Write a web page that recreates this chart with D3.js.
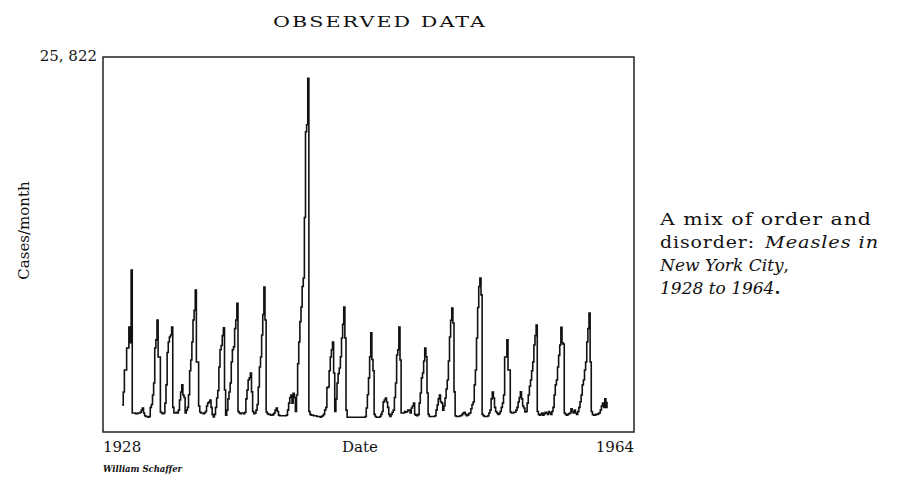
<!DOCTYPE html>
<html>
<head>
<meta charset="utf-8">
<script src="https://cdn.jsdelivr.net/npm/d3@7"></script>
<style>
  body { margin: 0; background: #fff; }
</style>
</head>
<body>
<div id="chart"></div>
<script>
// monthly measles cases, New York City, one row per year (Jan..Dec)
const startYear = 1928;
const cases = [
  1070, 1990, 3560, 3560, 5120, 5120, 6620, 5500, 10670, 500, 500, 500,   // 1928
  450, 450, 500, 500, 550, 700, 850, 500, 300, 250, 250, 200,
  250, 900, 1100, 1780, 2630, 5120, 5700, 7110, 4480, 4480, 570, 500,
  450, 500, 1200, 2500, 4800, 5550, 5900, 6050, 6620, 900, 500, 500,
  550, 500, 700, 1420, 1990, 2500, 1780, 1600, 500, 700, 900, 1800,
  3500, 4270, 5550, 7110, 7800, 9250, 4130, 4130, 1000, 570, 500, 500,
  450, 500, 600, 1000, 1200, 1280, 1420, 900, 400, 210, 400, 900,
  1560, 2100, 3770, 5000, 5300, 6000, 6550, 2130, 350, 700, 1500, 1990,
  2630, 4130, 5000, 5200, 6500, 7110, 8300, 600, 500, 450, 500, 500,
  450, 550, 1500, 2130, 2850, 3000, 3340, 2000, 600, 450, 500, 700,
  1100, 2350, 3770, 4480, 6050, 7500, 9460, 7110, 570, 450, 400, 400,
  350, 350, 400, 500, 700, 850, 600, 350, 300, 300, 300, 300,
  300, 300, 350, 700, 1200, 1600, 1780, 1200, 1900, 1600, 600, 1780,
  4000, 5550, 7000, 8040, 9500, 10100, 14400, 20500, 21000, 24300, 600, 400,
  350, 350, 300, 300, 300, 250, 250, 250, 200, 250, 300, 400,
  700, 900, 2300, 2350, 3500, 4480, 5000, 5550, 3340, 600, 1500, 2630,
  3300, 3700, 4500, 5830, 6800, 8040, 5830, 700, 200, 200, 200, 200,
  200, 200, 200, 200, 200, 200, 200, 200, 200, 200, 200, 200,
  250, 850, 1800, 3000, 4500, 6200, 4300, 3500, 400, 250, 200, 200,
  200, 250, 400, 600, 1280, 1420, 1560, 1280, 900, 400, 250, 400,
  550, 700, 1600, 2630, 4620, 5000, 6620, 4270, 500, 500, 500, 600,
  550, 600, 700, 700, 500, 850, 1000, 1200, 400, 350, 300, 400,
  1200, 1920, 3000, 3340, 4200, 5120, 4500, 1920, 400, 250, 250, 250,
  250, 250, 300, 700, 1070, 1500, 1780, 1300, 1200, 700, 1000, 1560,
  2200, 2850, 4200, 5900, 7100, 7970, 6900, 2000, 300, 250, 250, 250,
  300, 300, 400, 500, 550, 400, 300, 350, 450, 500, 800, 1100,
  1280, 2500, 3560, 5830, 8000, 9500, 10100, 8900, 400, 300, 250, 250,
  250, 300, 500, 700, 1500, 1990, 1560, 900, 600, 500, 400, 450,
  600, 900, 1200, 1780, 4480, 4480, 5700, 3560, 3560, 570, 500, 500,
  550, 550, 700, 900, 1280, 1600, 2000, 1500, 1000, 850, 570, 600,
  1200, 1780, 2400, 2850, 3500, 4130, 5340, 6000, 6760, 600, 400, 350,
  400, 500, 350, 450, 550, 500, 400, 600, 500, 400, 600, 900,
  1780, 2500, 2850, 3770, 4600, 5340, 6600, 5500, 5400, 500, 400, 350,
  400, 450, 500, 800, 600, 500, 700, 500, 400, 600, 900, 1300,
  1780, 2500, 2850, 3560, 4130, 5550, 6500, 7600, 4130, 600, 400, 350,
  350, 400, 400, 450, 500, 700, 1000, 1200, 900, 1500, 900, 1300         // 1963
];
const xTickLabels = ["1928", "1964"];
const xAxisTitle = "Date";
const yAxisTitle = "Cases/month";
const yMax = 25822;
const yMaxLabel = "25, 822";
const chartTitle = "OBSERVED DATA";
const credit = "William Schaffer";

const width = 907, height = 493;
const box = { left: 103, right: 634, top: 57, bottom: 432 };
const serif = "'DejaVu Serif', 'Liberation Serif', serif";
const ink = "#111";

const svg = d3.select("#chart")
  .append("svg")
  .attr("width", width)
  .attr("height", height);

svg.append("rect")
  .attr("width", width)
  .attr("height", height)
  .attr("fill", "#fff");

// months since Jan 1928, padded so the series sits inside the frame
const x = d3.scaleLinear()
  .domain([-17, 455])
  .range([box.left, box.right]);

const y = d3.scaleLinear()
  .domain([0, yMax])
  .range([box.bottom - 12, box.top]);

svg.append("rect")
  .attr("x", box.left)
  .attr("y", box.top)
  .attr("width", box.right - box.left)
  .attr("height", box.bottom - box.top)
  .attr("fill", "none")
  .attr("stroke", "#222")
  .attr("stroke-width", 1.5);

const line = d3.line()
  .x((d, i) => x(i))
  .y(d => y(d))
  .curve(d3.curveStepAfter);

svg.append("path")
  .datum(cases)
  .attr("fill", "none")
  .attr("stroke", ink)
  .attr("stroke-width", 1.6)
  .attr("d", line);

function label(xp, yp, str, size, anchor) {
  return svg.append("text")
    .attr("x", xp)
    .attr("y", yp)
    .attr("text-anchor", anchor || "start")
    .attr("font-family", serif)
    .attr("font-size", size)
    .attr("fill", ink)
    .text(str);
}

// the original face is wide; stretch the glyphs to its measured widths
function stretch(sel, len) {
  return sel.attr("textLength", len).attr("lengthAdjust", "spacingAndGlyphs");
}

stretch(label(273, 27, chartTitle, 15).attr("letter-spacing", 1.5), 214);

label(box.left - 6, y(yMax) + 4, yMaxLabel, 15, "end");

svg.append("text")
  .attr("transform", `translate(29, ${(box.top + box.bottom) / 2 - 14}) rotate(-90)`)
  .attr("text-anchor", "middle")
  .attr("font-family", serif)
  .attr("font-size", 15)
  .attr("fill", ink)
  .text(yAxisTitle);

label(box.left, box.bottom + 20, xTickLabels[0], 15);
label(box.right, box.bottom + 20, xTickLabels[1], 15, "end");
label(360, box.bottom + 20, xAxisTitle, 15, "middle");

stretch(label(box.left, 472, credit, 9)
  .attr("font-style", "italic")
  .attr("font-weight", "bold"), 79);

// side caption
stretch(label(660, 225, "A mix of order and", 17).attr("letter-spacing", 0.8), 212);
stretch(label(660, 248, "disorder:", 17).attr("letter-spacing", 0.8), 95);
stretch(label(765, 248, "Measles in", 17).attr("font-style", "italic").attr("letter-spacing", 0.8), 114);

const row3 = label(660, 271, "", 17);
row3.append("tspan").attr("font-style", "italic").text("New York City");
row3.append("tspan").text(",");

const row4 = label(660, 294, "", 17);
row4.append("tspan").attr("font-style", "italic").text("1928 to 1964");
row4.append("tspan").attr("font-weight", "bold").text(".");
</script>
</body>
</html>
